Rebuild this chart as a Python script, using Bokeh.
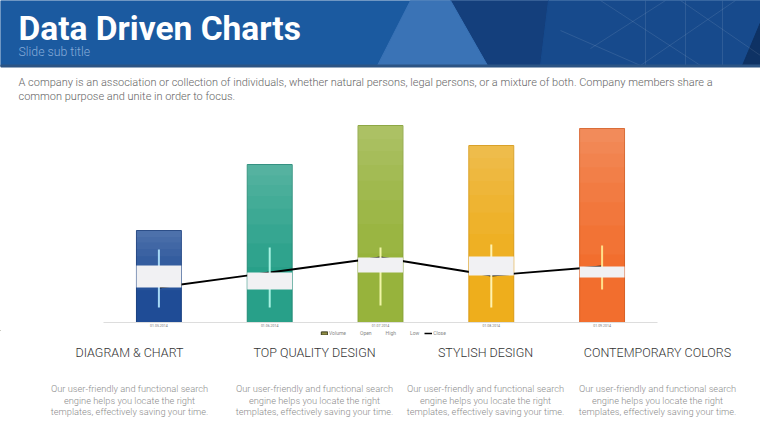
import numpy as np
from bokeh.plotting import figure
from bokeh.models import Range1d, FactorRange, Legend, LegendItem, ColumnDataSource
from bokeh.layouts import column
from bokeh.embed import file_html
from bokeh.resources import INLINE
from bokeh.core.properties import value

# ---------------- data ----------------
title = "Data Driven Charts"
subtitle = "Slide sub title"
intro_lines = [
    "A company is an association or collection of individuals, whether natural persons, legal persons, or a mixture of both. Company members share a",
    "common purpose and unite in order to focus.",
]

dates = ["01.05.2014", "01.06.2014", "01.07.2014", "01.08.2014", "01.09.2014"]
volume = [46, 79, 98.5, 88.5, 97]
open_ = [28.5, 16.5, 25, 33, 22.5]
high = [36.5, 37.5, 37.5, 39, 38.5]
low = [7.5, 7.5, 8.5, 7.5, 16.5]
close = [17.5, 25, 32.5, 23.5, 28]

legend_labels = ["Volume", "Open", "High", "Low", "Close"]

headings = ["DIAGRAM & CHART", "TOP QUALITY DESIGN", "STYLISH DESIGN", "CONTEMPORARY COLORS"]
body_lines = [
    "Our user-friendly and functional search",
    "engine helps you locate the right",
    "templates, effectively saving your time.",
]

# ---------------- styles ----------------
bar_colors = ["#1f4c96", "#28a089", "#97b33c", "#eeae1c", "#f26e2e"]
bar_edges = ["#173f80", "#208a75", "#86a032", "#d99a14", "#d95f24"]
wick_colors = ["#a6d8f6", "#a6f2e2", "#f0f5a6", "#fff2b0", "#ffe08a"]

W = 760
FONT = value("Roboto")
LIGHT = value("Roboto Light")


def blank(h, top, bottom):
    p = figure(width=W, height=h, x_range=Range1d(0, W), y_range=Range1d(bottom, top),
               output_backend="svg", toolbar_location=None,
               x_axis_location=None, y_axis_location=None, min_border=0)
    p.frame_align = False
    p.outline_line_color = None
    p.grid.visible = False
    p.background_fill_color = "white"
    p.border_fill_color = "white"
    return p


# ---------------- header ----------------
head = blank(110, 0, 110)
head.quad(left=0, right=760, top=0, bottom=65, color="#1b5aa0")
head.patch([450, 548, 540, 487], [0, 0, 65, 65], color="#143f7c")
head.patch([548, 760, 760, 540], [0, 0, 65, 65], color="#174a8c")
head.patch([410, 450, 487, 377], [0, 0, 65, 65], color="#3a73b6")
head.patch([742, 760, 760], [65, 22, 65], color="#0e3264")
head.multi_line(xs=[[590, 665], [600, 700], [640, 735], [680, 760], [645, 645], [685, 685], [722, 722], [560, 640]],
                ys=[[48, 0], [0, 65], [65, 0], [0, 55], [0, 65], [0, 65], [0, 65], [30, 65]],
                line_color="white", line_alpha=0.10, line_width=1)
head.quad(left=0, right=760, top=64.5, bottom=66.5, color="#2c5584")
head.text(x=[18], y=[28], text=[title], text_font=FONT, text_font_style="bold",
          text_font_size="33.5px", text_color="white", text_baseline="middle")
head.text(x=[18], y=[51], text=[subtitle], text_font=LIGHT,
          text_font_size="12.3px", text_color="#86abd8", text_baseline="middle")
head.text(x=[18, 18], y=[82, 96], text=intro_lines, text_font=LIGHT,
          text_font_size="11px", text_color="#666666", text_baseline="middle")

# ---------------- chart ----------------
src = ColumnDataSource(dict(
    date=dates, volume=volume, open=open_, high=high, low=low, close=close,
    body_top=np.maximum(open_, close), body_bot=np.minimum(open_, close),
    color=bar_colors, edge=bar_edges, wick=wick_colors,
))

chart = figure(width=W, height=220, x_range=FactorRange(factors=dates, range_padding=0),
               y_range=Range1d(0, 100), output_backend="svg", toolbar_location=None,
               y_axis_location=None, min_border_left=103, min_border_right=103,
               min_border_top=12, min_border_bottom=8)
chart.frame_align = False
chart.outline_line_color = None
chart.grid.visible = False
chart.background_fill_color = "white"
chart.border_fill_color = "white"

chart.vbar(x="date", top="volume", bottom=0, width=0.405, fill_color="color",
           line_color="edge", line_width=1, source=src)
# soft lighter shading towards the top of each bar
vol = np.array(volume, dtype=float)
for f in [0.35, 0.5, 0.62, 0.72, 0.8, 0.87, 0.93]:
    chart.vbar(x=dates, top=vol, bottom=vol * f, width=0.405, fill_color="white",
               fill_alpha=0.035, line_color=None)
chart.line(x="date", y="close", line_color="black", line_width=1.8, source=src)
chart.segment(x0="date", y0="low", x1="date", y1="high", line_color="wick", line_width=2, source=src)
chart.vbar(x="date", top="body_top", bottom="body_bot", width=0.405, fill_color="#f1f1f3",
           line_color=None, source=src)

ax = chart.xaxis[0]
ax.axis_line_color = "#dddddd"
ax.major_tick_line_color = None
ax.minor_tick_line_color = None
ax.major_tick_out = 0
ax.major_label_text_font = "Roboto"
ax.major_label_text_font_size = "3.5px"
ax.major_label_text_color = "#777777"
ax.major_label_standoff = 1

# ---------------- footer (legend + texts) ----------------
foot = blank(98, 330, 428)

# legend proxies: one point each, kept outside the visible area of the footer
vol_proxy = foot.vbar(x=[-50], top=[-50], bottom=[-60], width=1, fill_color="#928f45", line_color="#3c3c20")
open_proxy = foot.line(x=[-50, -40], y=[-50, -50], line_alpha=0)
high_proxy = foot.line(x=[-50, -40], y=[-50, -50], line_alpha=0)
low_proxy = foot.line(x=[-50, -40], y=[-50, -50], line_alpha=0)
close_proxy = foot.line(x=[-50, -40], y=[-50, -50], line_color="black", line_width=1.5)

legend = Legend(items=[LegendItem(label=lab, renderers=[r]) for lab, r in
                       zip(legend_labels, [vol_proxy, open_proxy, high_proxy, low_proxy, close_proxy])],
                orientation="horizontal", location=(320, 92),
                label_text_font="Roboto", label_text_font_size="5px", label_text_color="#888888",
                glyph_width=8, glyph_height=4, label_height=5, label_width=0, label_standoff=1,
                spacing=5, padding=0, margin=0, border_line_alpha=0, background_fill_alpha=0)
foot.add_layout(legend)

centers = [129, 314, 485, 657]
foot.text(x=centers, y=[352] * 4, text=headings, text_font=LIGHT, text_font_size="12.5px",
          text_color="#333333", text_align="center", text_baseline="middle")
for yy, line in zip([388, 399.5, 411], body_lines):
    foot.text(x=centers, y=[yy] * 4, text=[line] * 4, text_font=LIGHT, text_font_size="9.3px",
              text_color="#8c8c8c", text_align="center", text_baseline="middle")

page = column(head, chart, foot, spacing=0)
open("out.html", "w").write(file_html(page, INLINE))
